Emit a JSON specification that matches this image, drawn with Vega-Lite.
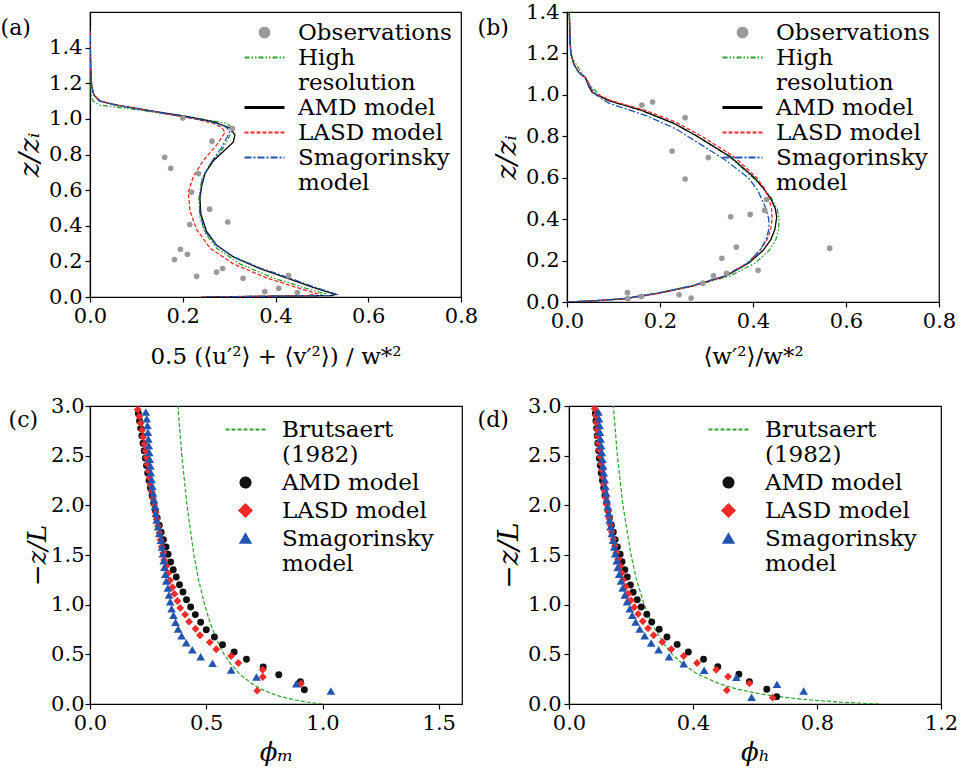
{
  "$schema": "https://vega.github.io/schema/vega-lite/v6.json",
  "background": "white",
  "padding": {"left": 0, "top": 0, "right": 0, "bottom": 0},
  "columns": 2,
  "align": "none",
  "spacing": {"row": 25, "column": -2},
  "resolve": {
    "scale": {"color": "independent", "shape": "independent", "strokeDash": "independent", "size": "independent"},
    "legend": {"color": "independent", "shape": "independent", "strokeDash": "independent", "size": "independent"}
  },
  "datasets": {
    "a_obs": [
      {"series": "Observations", "x": 0.161, "y": 0.784}, {"series": "Observations", "x": 0.174, "y": 0.723},
      {"series": "Observations", "x": 0.234, "y": 0.693}, {"series": "Observations", "x": 0.263, "y": 0.875},
      {"series": "Observations", "x": 0.307, "y": 0.946}, {"series": "Observations", "x": 0.219, "y": 0.589},
      {"series": "Observations", "x": 0.258, "y": 0.493}, {"series": "Observations", "x": 0.297, "y": 0.421},
      {"series": "Observations", "x": 0.215, "y": 0.407}, {"series": "Observations", "x": 0.195, "y": 0.268},
      {"series": "Observations", "x": 0.21, "y": 0.24}, {"series": "Observations", "x": 0.182, "y": 0.21},
      {"series": "Observations", "x": 0.23, "y": 0.116}, {"series": "Observations", "x": 0.273, "y": 0.14},
      {"series": "Observations", "x": 0.286, "y": 0.16}, {"series": "Observations", "x": 0.33, "y": 0.105},
      {"series": "Observations", "x": 0.428, "y": 0.12}, {"series": "Observations", "x": 0.377, "y": 0.03},
      {"series": "Observations", "x": 0.407, "y": 0.049}, {"series": "Observations", "x": 0.447, "y": 0.025},
      {"series": "Observations", "x": 0.2, "y": 1.005}
    ],
    "a_lines": [
      {"series": "High resolution", "x": 0.24, "y": 0}, {"series": "High resolution", "x": 0.49, "y": 0.008},
      {"series": "High resolution", "x": 0.506, "y": 0.019}, {"series": "High resolution", "x": 0.46, "y": 0.054},
      {"series": "High resolution", "x": 0.395, "y": 0.107}, {"series": "High resolution", "x": 0.323, "y": 0.186},
      {"series": "High resolution", "x": 0.273, "y": 0.274}, {"series": "High resolution", "x": 0.248, "y": 0.36},
      {"series": "High resolution", "x": 0.237, "y": 0.449}, {"series": "High resolution", "x": 0.235, "y": 0.554},
      {"series": "High resolution", "x": 0.241, "y": 0.66}, {"series": "High resolution", "x": 0.259, "y": 0.747},
      {"series": "High resolution", "x": 0.287, "y": 0.835}, {"series": "High resolution", "x": 0.3, "y": 0.9},
      {"series": "High resolution", "x": 0.309, "y": 0.946}, {"series": "High resolution", "x": 0.295, "y": 0.975},
      {"series": "High resolution", "x": 0.237, "y": 1.0}, {"series": "High resolution", "x": 0.165, "y": 1.028},
      {"series": "High resolution", "x": 0.093, "y": 1.054}, {"series": "High resolution", "x": 0.0216, "y": 1.077},
      {"series": "High resolution", "x": 0.007, "y": 1.098}, {"series": "High resolution", "x": 0.003, "y": 1.13},
      {"series": "High resolution", "x": 0.001, "y": 1.25}, {"series": "High resolution", "x": 0.0002, "y": 1.5},
      {"series": "AMD model", "x": 0.25, "y": 0}, {"series": "AMD model", "x": 0.52, "y": 0.008},
      {"series": "AMD model", "x": 0.53, "y": 0.014}, {"series": "AMD model", "x": 0.51, "y": 0.03},
      {"series": "AMD model", "x": 0.481, "y": 0.054}, {"series": "AMD model", "x": 0.424, "y": 0.107},
      {"series": "AMD model", "x": 0.366, "y": 0.16}, {"series": "AMD model", "x": 0.309, "y": 0.225},
      {"series": "AMD model", "x": 0.273, "y": 0.291}, {"series": "AMD model", "x": 0.251, "y": 0.37},
      {"series": "AMD model", "x": 0.239, "y": 0.467}, {"series": "AMD model", "x": 0.237, "y": 0.554},
      {"series": "AMD model", "x": 0.241, "y": 0.625}, {"series": "AMD model", "x": 0.248, "y": 0.695},
      {"series": "AMD model", "x": 0.266, "y": 0.765}, {"series": "AMD model", "x": 0.295, "y": 0.835},
      {"series": "AMD model", "x": 0.309, "y": 0.87}, {"series": "AMD model", "x": 0.3125, "y": 0.91},
      {"series": "AMD model", "x": 0.302, "y": 0.949}, {"series": "AMD model", "x": 0.266, "y": 0.984},
      {"series": "AMD model", "x": 0.208, "y": 1.014}, {"series": "AMD model", "x": 0.129, "y": 1.046},
      {"series": "AMD model", "x": 0.058, "y": 1.077}, {"series": "AMD model", "x": 0.0216, "y": 1.1},
      {"series": "AMD model", "x": 0.0086, "y": 1.133}, {"series": "AMD model", "x": 0.0036, "y": 1.186},
      {"series": "AMD model", "x": 0.0014, "y": 1.29}, {"series": "AMD model", "x": 0.0002, "y": 1.5},
      {"series": "LASD model", "x": 0.24, "y": 0}, {"series": "LASD model", "x": 0.47, "y": 0.008},
      {"series": "LASD model", "x": 0.489, "y": 0.019}, {"series": "LASD model", "x": 0.445, "y": 0.054},
      {"series": "LASD model", "x": 0.381, "y": 0.107}, {"series": "LASD model", "x": 0.309, "y": 0.186},
      {"series": "LASD model", "x": 0.259, "y": 0.274}, {"series": "LASD model", "x": 0.23, "y": 0.379},
      {"series": "LASD model", "x": 0.2155, "y": 0.484}, {"series": "LASD model", "x": 0.212, "y": 0.589},
      {"series": "LASD model", "x": 0.223, "y": 0.677}, {"series": "LASD model", "x": 0.244, "y": 0.765},
      {"series": "LASD model", "x": 0.273, "y": 0.853}, {"series": "LASD model", "x": 0.291, "y": 0.923},
      {"series": "LASD model", "x": 0.285, "y": 0.95}, {"series": "LASD model", "x": 0.266, "y": 0.975},
      {"series": "LASD model", "x": 0.225, "y": 1.0}, {"series": "LASD model", "x": 0.16, "y": 1.03},
      {"series": "LASD model", "x": 0.129, "y": 1.046}, {"series": "LASD model", "x": 0.058, "y": 1.077},
      {"series": "LASD model", "x": 0.0216, "y": 1.1}, {"series": "LASD model", "x": 0.0086, "y": 1.133},
      {"series": "LASD model", "x": 0.0036, "y": 1.186}, {"series": "LASD model", "x": 0.0014, "y": 1.29},
      {"series": "LASD model", "x": 0.0002, "y": 1.5},
      {"series": "Smagorinsky model", "x": 0.25, "y": 0}, {"series": "Smagorinsky model", "x": 0.52, "y": 0.008},
      {"series": "Smagorinsky model", "x": 0.532, "y": 0.014}, {"series": "Smagorinsky model", "x": 0.515, "y": 0.03},
      {"series": "Smagorinsky model", "x": 0.486, "y": 0.054}, {"series": "Smagorinsky model", "x": 0.43, "y": 0.107},
      {"series": "Smagorinsky model", "x": 0.37, "y": 0.16}, {"series": "Smagorinsky model", "x": 0.31, "y": 0.225},
      {"series": "Smagorinsky model", "x": 0.272, "y": 0.291}, {"series": "Smagorinsky model", "x": 0.248, "y": 0.37},
      {"series": "Smagorinsky model", "x": 0.237, "y": 0.467}, {"series": "Smagorinsky model", "x": 0.236, "y": 0.554},
      {"series": "Smagorinsky model", "x": 0.242, "y": 0.66}, {"series": "Smagorinsky model", "x": 0.259, "y": 0.747},
      {"series": "Smagorinsky model", "x": 0.283, "y": 0.835}, {"series": "Smagorinsky model", "x": 0.296, "y": 0.9},
      {"series": "Smagorinsky model", "x": 0.302, "y": 0.932}, {"series": "Smagorinsky model", "x": 0.29, "y": 0.96},
      {"series": "Smagorinsky model", "x": 0.26, "y": 0.984}, {"series": "Smagorinsky model", "x": 0.2, "y": 1.014},
      {"series": "Smagorinsky model", "x": 0.125, "y": 1.046}, {"series": "Smagorinsky model", "x": 0.055, "y": 1.077},
      {"series": "Smagorinsky model", "x": 0.02, "y": 1.1}, {"series": "Smagorinsky model", "x": 0.008, "y": 1.133},
      {"series": "Smagorinsky model", "x": 0.0035, "y": 1.186}, {"series": "Smagorinsky model", "x": 0.0014, "y": 1.29},
      {"series": "Smagorinsky model", "x": 0.0002, "y": 1.5}
    ],
    "b_obs": [
      {"series": "Observations", "x": 0.161, "y": 0.951}, {"series": "Observations", "x": 0.184, "y": 0.965},
      {"series": "Observations", "x": 0.254, "y": 0.89}, {"series": "Observations", "x": 0.226, "y": 0.729},
      {"series": "Observations", "x": 0.304, "y": 0.697}, {"series": "Observations", "x": 0.254, "y": 0.594},
      {"series": "Observations", "x": 0.429, "y": 0.495}, {"series": "Observations", "x": 0.425, "y": 0.443},
      {"series": "Observations", "x": 0.394, "y": 0.423}, {"series": "Observations", "x": 0.352, "y": 0.411},
      {"series": "Observations", "x": 0.364, "y": 0.265}, {"series": "Observations", "x": 0.333, "y": 0.211},
      {"series": "Observations", "x": 0.411, "y": 0.153}, {"series": "Observations", "x": 0.343, "y": 0.139},
      {"series": "Observations", "x": 0.315, "y": 0.126}, {"series": "Observations", "x": 0.292, "y": 0.091},
      {"series": "Observations", "x": 0.13, "y": 0.045}, {"series": "Observations", "x": 0.241, "y": 0.035},
      {"series": "Observations", "x": 0.16, "y": 0.027}, {"series": "Observations", "x": 0.131, "y": 0.016},
      {"series": "Observations", "x": 0.267, "y": 0.019}, {"series": "Observations", "x": 0.565, "y": 0.26}
    ],
    "b_lines": [
      {"series": "High resolution", "x": 0.0, "y": 0}, {"series": "High resolution", "x": 0.05, "y": 0.005},
      {"series": "High resolution", "x": 0.12, "y": 0.016}, {"series": "High resolution", "x": 0.195, "y": 0.043},
      {"series": "High resolution", "x": 0.27, "y": 0.077}, {"series": "High resolution", "x": 0.35, "y": 0.125},
      {"series": "High resolution", "x": 0.405, "y": 0.188}, {"series": "High resolution", "x": 0.435, "y": 0.25},
      {"series": "High resolution", "x": 0.449, "y": 0.3}, {"series": "High resolution", "x": 0.455, "y": 0.35},
      {"series": "High resolution", "x": 0.456, "y": 0.4}, {"series": "High resolution", "x": 0.452, "y": 0.45},
      {"series": "High resolution", "x": 0.44, "y": 0.5}, {"series": "High resolution", "x": 0.422, "y": 0.55},
      {"series": "High resolution", "x": 0.4, "y": 0.6}, {"series": "High resolution", "x": 0.35, "y": 0.7},
      {"series": "High resolution", "x": 0.28, "y": 0.8}, {"series": "High resolution", "x": 0.232, "y": 0.86},
      {"series": "High resolution", "x": 0.16, "y": 0.924}, {"series": "High resolution", "x": 0.095, "y": 0.97},
      {"series": "High resolution", "x": 0.075, "y": 0.99}, {"series": "High resolution", "x": 0.054, "y": 1.035},
      {"series": "High resolution", "x": 0.033, "y": 1.1}, {"series": "High resolution", "x": 0.011, "y": 1.18},
      {"series": "High resolution", "x": 0.006, "y": 1.25}, {"series": "High resolution", "x": 0.005, "y": 1.4},
      {"series": "AMD model", "x": 0.0, "y": 0}, {"series": "AMD model", "x": 0.054, "y": 0.005},
      {"series": "AMD model", "x": 0.126, "y": 0.016}, {"series": "AMD model", "x": 0.198, "y": 0.043},
      {"series": "AMD model", "x": 0.269, "y": 0.077}, {"series": "AMD model", "x": 0.341, "y": 0.125},
      {"series": "AMD model", "x": 0.391, "y": 0.188}, {"series": "AMD model", "x": 0.422, "y": 0.25},
      {"series": "AMD model", "x": 0.438, "y": 0.3}, {"series": "AMD model", "x": 0.447, "y": 0.35},
      {"series": "AMD model", "x": 0.451, "y": 0.41}, {"series": "AMD model", "x": 0.448, "y": 0.45},
      {"series": "AMD model", "x": 0.438, "y": 0.5}, {"series": "AMD model", "x": 0.422, "y": 0.55},
      {"series": "AMD model", "x": 0.403, "y": 0.6}, {"series": "AMD model", "x": 0.352, "y": 0.7},
      {"series": "AMD model", "x": 0.28, "y": 0.8}, {"series": "AMD model", "x": 0.232, "y": 0.86},
      {"series": "AMD model", "x": 0.162, "y": 0.924}, {"series": "AMD model", "x": 0.09, "y": 0.972},
      {"series": "AMD model", "x": 0.054, "y": 1.012}, {"series": "AMD model", "x": 0.047, "y": 1.04},
      {"series": "AMD model", "x": 0.04, "y": 1.083}, {"series": "AMD model", "x": 0.025, "y": 1.11},
      {"series": "AMD model", "x": 0.015, "y": 1.147}, {"series": "AMD model", "x": 0.008, "y": 1.2},
      {"series": "AMD model", "x": 0.006, "y": 1.3}, {"series": "AMD model", "x": 0.005, "y": 1.4},
      {"series": "LASD model", "x": 0.0, "y": 0}, {"series": "LASD model", "x": 0.055, "y": 0.005},
      {"series": "LASD model", "x": 0.128, "y": 0.016}, {"series": "LASD model", "x": 0.2, "y": 0.043},
      {"series": "LASD model", "x": 0.27, "y": 0.077}, {"series": "LASD model", "x": 0.34, "y": 0.125},
      {"series": "LASD model", "x": 0.388, "y": 0.188}, {"series": "LASD model", "x": 0.415, "y": 0.25},
      {"series": "LASD model", "x": 0.43, "y": 0.3}, {"series": "LASD model", "x": 0.438, "y": 0.35},
      {"series": "LASD model", "x": 0.441, "y": 0.4}, {"series": "LASD model", "x": 0.44, "y": 0.45},
      {"series": "LASD model", "x": 0.434, "y": 0.5}, {"series": "LASD model", "x": 0.424, "y": 0.55},
      {"series": "LASD model", "x": 0.408, "y": 0.6}, {"series": "LASD model", "x": 0.36, "y": 0.7},
      {"series": "LASD model", "x": 0.29, "y": 0.8}, {"series": "LASD model", "x": 0.234, "y": 0.868},
      {"series": "LASD model", "x": 0.17, "y": 0.924}, {"series": "LASD model", "x": 0.095, "y": 0.972},
      {"series": "LASD model", "x": 0.056, "y": 1.012}, {"series": "LASD model", "x": 0.048, "y": 1.05},
      {"series": "LASD model", "x": 0.04, "y": 1.083}, {"series": "LASD model", "x": 0.025, "y": 1.11},
      {"series": "LASD model", "x": 0.015, "y": 1.147}, {"series": "LASD model", "x": 0.008, "y": 1.2},
      {"series": "LASD model", "x": 0.005, "y": 1.4},
      {"series": "Smagorinsky model", "x": 0.0, "y": 0}, {"series": "Smagorinsky model", "x": 0.05, "y": 0.005},
      {"series": "Smagorinsky model", "x": 0.12, "y": 0.016}, {"series": "Smagorinsky model", "x": 0.195, "y": 0.043},
      {"series": "Smagorinsky model", "x": 0.265, "y": 0.077}, {"series": "Smagorinsky model", "x": 0.338, "y": 0.125},
      {"series": "Smagorinsky model", "x": 0.388, "y": 0.188}, {"series": "Smagorinsky model", "x": 0.415, "y": 0.25},
      {"series": "Smagorinsky model", "x": 0.428, "y": 0.3}, {"series": "Smagorinsky model", "x": 0.434, "y": 0.35},
      {"series": "Smagorinsky model", "x": 0.434, "y": 0.4}, {"series": "Smagorinsky model", "x": 0.428, "y": 0.45},
      {"series": "Smagorinsky model", "x": 0.418, "y": 0.5}, {"series": "Smagorinsky model", "x": 0.41, "y": 0.54},
      {"series": "Smagorinsky model", "x": 0.39, "y": 0.6}, {"series": "Smagorinsky model", "x": 0.341, "y": 0.684},
      {"series": "Smagorinsky model", "x": 0.295, "y": 0.75}, {"series": "Smagorinsky model", "x": 0.234, "y": 0.836},
      {"series": "Smagorinsky model", "x": 0.17, "y": 0.9}, {"series": "Smagorinsky model", "x": 0.09, "y": 0.96},
      {"series": "Smagorinsky model", "x": 0.062, "y": 1.0}, {"series": "Smagorinsky model", "x": 0.046, "y": 1.05},
      {"series": "Smagorinsky model", "x": 0.038, "y": 1.083}, {"series": "Smagorinsky model", "x": 0.024, "y": 1.11},
      {"series": "Smagorinsky model", "x": 0.015, "y": 1.147}, {"series": "Smagorinsky model", "x": 0.008, "y": 1.2},
      {"series": "Smagorinsky model", "x": 0.005, "y": 1.4}
    ],
    "c_line": [
      {"series": "Brutsaert (1982)", "x": 1.0, "y": 0}, {"series": "Brutsaert (1982)", "x": 0.981, "y": 0.005},
      {"series": "Brutsaert (1982)", "x": 0.964, "y": 0.01}, {"series": "Brutsaert (1982)", "x": 0.933, "y": 0.02},
      {"series": "Brutsaert (1982)", "x": 0.884, "y": 0.04}, {"series": "Brutsaert (1982)", "x": 0.845, "y": 0.06},
      {"series": "Brutsaert (1982)", "x": 0.814, "y": 0.08}, {"series": "Brutsaert (1982)", "x": 0.788, "y": 0.1},
      {"series": "Brutsaert (1982)", "x": 0.736, "y": 0.15}, {"series": "Brutsaert (1982)", "x": 0.699, "y": 0.2},
      {"series": "Brutsaert (1982)", "x": 0.644, "y": 0.3}, {"series": "Brutsaert (1982)", "x": 0.606, "y": 0.4},
      {"series": "Brutsaert (1982)", "x": 0.577, "y": 0.5}, {"series": "Brutsaert (1982)", "x": 0.554, "y": 0.6},
      {"series": "Brutsaert (1982)", "x": 0.519, "y": 0.8}, {"series": "Brutsaert (1982)", "x": 0.493, "y": 1.0},
      {"series": "Brutsaert (1982)", "x": 0.467, "y": 1.25}, {"series": "Brutsaert (1982)", "x": 0.447, "y": 1.5},
      {"series": "Brutsaert (1982)", "x": 0.417, "y": 2.0}, {"series": "Brutsaert (1982)", "x": 0.395, "y": 2.5},
      {"series": "Brutsaert (1982)", "x": 0.378, "y": 3.0}
    ],
    "c_pts": [
      {"series": "AMD model", "x": 0.922, "y": 0.144}, {"series": "AMD model", "x": 0.905, "y": 0.225},
      {"series": "AMD model", "x": 0.812, "y": 0.295}, {"series": "AMD model", "x": 0.745, "y": 0.372},
      {"series": "AMD model", "x": 0.673, "y": 0.45}, {"series": "AMD model", "x": 0.62, "y": 0.524},
      {"series": "AMD model", "x": 0.57, "y": 0.597}, {"series": "AMD model", "x": 0.535, "y": 0.675},
      {"series": "AMD model", "x": 0.5, "y": 0.748}, {"series": "AMD model", "x": 0.476, "y": 0.823},
      {"series": "AMD model", "x": 0.453, "y": 0.9}, {"series": "AMD model", "x": 0.433, "y": 0.977},
      {"series": "AMD model", "x": 0.415, "y": 1.05}, {"series": "AMD model", "x": 0.4, "y": 1.128},
      {"series": "AMD model", "x": 0.385, "y": 1.2}, {"series": "AMD model", "x": 0.371, "y": 1.279},
      {"series": "AMD model", "x": 0.358, "y": 1.352}, {"series": "AMD model", "x": 0.347, "y": 1.43},
      {"series": "AMD model", "x": 0.336, "y": 1.507}, {"series": "AMD model", "x": 0.327, "y": 1.58},
      {"series": "AMD model", "x": 0.316, "y": 1.655}, {"series": "AMD model", "x": 0.306, "y": 1.73},
      {"series": "AMD model", "x": 0.298, "y": 1.8}, {"series": "AMD model", "x": 0.289, "y": 1.876},
      {"series": "AMD model", "x": 0.281, "y": 1.95}, {"series": "AMD model", "x": 0.274, "y": 2.025},
      {"series": "AMD model", "x": 0.267, "y": 2.1}, {"series": "AMD model", "x": 0.26, "y": 2.175},
      {"series": "AMD model", "x": 0.254, "y": 2.25}, {"series": "AMD model", "x": 0.248, "y": 2.325},
      {"series": "AMD model", "x": 0.243, "y": 2.4}, {"series": "AMD model", "x": 0.238, "y": 2.475},
      {"series": "AMD model", "x": 0.233, "y": 2.55}, {"series": "AMD model", "x": 0.228, "y": 2.625},
      {"series": "AMD model", "x": 0.223, "y": 2.7}, {"series": "AMD model", "x": 0.218, "y": 2.775},
      {"series": "AMD model", "x": 0.213, "y": 2.85}, {"series": "AMD model", "x": 0.208, "y": 2.925},
      {"series": "LASD model", "x": 0.719, "y": 0.134}, {"series": "LASD model", "x": 0.907, "y": 0.204},
      {"series": "LASD model", "x": 0.743, "y": 0.272}, {"series": "LASD model", "x": 0.743, "y": 0.345},
      {"series": "LASD model", "x": 0.638, "y": 0.413}, {"series": "LASD model", "x": 0.607, "y": 0.483},
      {"series": "LASD model", "x": 0.543, "y": 0.551}, {"series": "LASD model", "x": 0.515, "y": 0.621},
      {"series": "LASD model", "x": 0.473, "y": 0.692}, {"series": "LASD model", "x": 0.454, "y": 0.758},
      {"series": "LASD model", "x": 0.426, "y": 0.829}, {"series": "LASD model", "x": 0.409, "y": 0.9},
      {"series": "LASD model", "x": 0.388, "y": 0.967}, {"series": "LASD model", "x": 0.376, "y": 1.037},
      {"series": "LASD model", "x": 0.363, "y": 1.108}, {"series": "LASD model", "x": 0.355, "y": 1.175},
      {"series": "LASD model", "x": 0.344, "y": 1.245}, {"series": "LASD model", "x": 0.336, "y": 1.316},
      {"series": "LASD model", "x": 0.328, "y": 1.387}, {"series": "LASD model", "x": 0.319, "y": 1.45},
      {"series": "LASD model", "x": 0.315, "y": 1.52}, {"series": "LASD model", "x": 0.308, "y": 1.584},
      {"series": "LASD model", "x": 0.303, "y": 1.653}, {"series": "LASD model", "x": 0.298, "y": 1.722},
      {"series": "LASD model", "x": 0.292, "y": 1.791}, {"series": "LASD model", "x": 0.287, "y": 1.86},
      {"series": "LASD model", "x": 0.282, "y": 1.929}, {"series": "LASD model", "x": 0.277, "y": 1.998},
      {"series": "LASD model", "x": 0.271, "y": 2.067}, {"series": "LASD model", "x": 0.266, "y": 2.136},
      {"series": "LASD model", "x": 0.26, "y": 2.205}, {"series": "LASD model", "x": 0.256, "y": 2.274},
      {"series": "LASD model", "x": 0.252, "y": 2.343}, {"series": "LASD model", "x": 0.247, "y": 2.412},
      {"series": "LASD model", "x": 0.243, "y": 2.481}, {"series": "LASD model", "x": 0.239, "y": 2.55},
      {"series": "LASD model", "x": 0.235, "y": 2.619}, {"series": "LASD model", "x": 0.229, "y": 2.688},
      {"series": "LASD model", "x": 0.224, "y": 2.757}, {"series": "LASD model", "x": 0.218, "y": 2.826},
      {"series": "LASD model", "x": 0.212, "y": 2.895}, {"series": "LASD model", "x": 0.205, "y": 2.964},
      {"series": "Smagorinsky model", "x": 1.036, "y": 0.131}, {"series": "Smagorinsky model", "x": 0.887, "y": 0.204},
      {"series": "Smagorinsky model", "x": 0.716, "y": 0.272}, {"series": "Smagorinsky model", "x": 0.607, "y": 0.342},
      {"series": "Smagorinsky model", "x": 0.527, "y": 0.41}, {"series": "Smagorinsky model", "x": 0.476, "y": 0.476},
      {"series": "Smagorinsky model", "x": 0.44, "y": 0.547}, {"series": "Smagorinsky model", "x": 0.414, "y": 0.617},
      {"series": "Smagorinsky model", "x": 0.394, "y": 0.688}, {"series": "Smagorinsky model", "x": 0.379, "y": 0.755},
      {"series": "Smagorinsky model", "x": 0.368, "y": 0.823}, {"series": "Smagorinsky model", "x": 0.359, "y": 0.893},
      {"series": "Smagorinsky model", "x": 0.351, "y": 0.96}, {"series": "Smagorinsky model", "x": 0.345, "y": 1.03},
      {"series": "Smagorinsky model", "x": 0.34, "y": 1.098}, {"series": "Smagorinsky model", "x": 0.335, "y": 1.168},
      {"series": "Smagorinsky model", "x": 0.328, "y": 1.239}, {"series": "Smagorinsky model", "x": 0.324, "y": 1.306},
      {"series": "Smagorinsky model", "x": 0.32, "y": 1.377}, {"series": "Smagorinsky model", "x": 0.317, "y": 1.443},
      {"series": "Smagorinsky model", "x": 0.313, "y": 1.513}, {"series": "Smagorinsky model", "x": 0.31, "y": 1.58},
      {"series": "Smagorinsky model", "x": 0.305, "y": 1.648}, {"series": "Smagorinsky model", "x": 0.298, "y": 1.716},
      {"series": "Smagorinsky model", "x": 0.293, "y": 1.784}, {"series": "Smagorinsky model", "x": 0.287, "y": 1.852},
      {"series": "Smagorinsky model", "x": 0.283, "y": 1.92}, {"series": "Smagorinsky model", "x": 0.279, "y": 1.988},
      {"series": "Smagorinsky model", "x": 0.275, "y": 2.056}, {"series": "Smagorinsky model", "x": 0.271, "y": 2.124},
      {"series": "Smagorinsky model", "x": 0.268, "y": 2.192}, {"series": "Smagorinsky model", "x": 0.265, "y": 2.26},
      {"series": "Smagorinsky model", "x": 0.262, "y": 2.328}, {"series": "Smagorinsky model", "x": 0.26, "y": 2.396},
      {"series": "Smagorinsky model", "x": 0.257, "y": 2.464}, {"series": "Smagorinsky model", "x": 0.255, "y": 2.532},
      {"series": "Smagorinsky model", "x": 0.253, "y": 2.6}, {"series": "Smagorinsky model", "x": 0.251, "y": 2.668},
      {"series": "Smagorinsky model", "x": 0.249, "y": 2.736}, {"series": "Smagorinsky model", "x": 0.247, "y": 2.804},
      {"series": "Smagorinsky model", "x": 0.244, "y": 2.872}, {"series": "Smagorinsky model", "x": 0.24, "y": 2.94}
    ],
    "d_line": [
      {"series": "Brutsaert (1982)", "x": 1.0, "y": 0}, {"series": "Brutsaert (1982)", "x": 0.962, "y": 0.005},
      {"series": "Brutsaert (1982)", "x": 0.928, "y": 0.01}, {"series": "Brutsaert (1982)", "x": 0.87, "y": 0.02},
      {"series": "Brutsaert (1982)", "x": 0.781, "y": 0.04}, {"series": "Brutsaert (1982)", "x": 0.714, "y": 0.06},
      {"series": "Brutsaert (1982)", "x": 0.662, "y": 0.08}, {"series": "Brutsaert (1982)", "x": 0.62, "y": 0.1},
      {"series": "Brutsaert (1982)", "x": 0.542, "y": 0.15}, {"series": "Brutsaert (1982)", "x": 0.488, "y": 0.2},
      {"series": "Brutsaert (1982)", "x": 0.415, "y": 0.3}, {"series": "Brutsaert (1982)", "x": 0.368, "y": 0.4},
      {"series": "Brutsaert (1982)", "x": 0.333, "y": 0.5}, {"series": "Brutsaert (1982)", "x": 0.307, "y": 0.6},
      {"series": "Brutsaert (1982)", "x": 0.269, "y": 0.8}, {"series": "Brutsaert (1982)", "x": 0.2425, "y": 1.0},
      {"series": "Brutsaert (1982)", "x": 0.218, "y": 1.25}, {"series": "Brutsaert (1982)", "x": 0.2, "y": 1.5},
      {"series": "Brutsaert (1982)", "x": 0.174, "y": 2.0}, {"series": "Brutsaert (1982)", "x": 0.156, "y": 2.5},
      {"series": "Brutsaert (1982)", "x": 0.143, "y": 3.0}
    ],
    "d_pts": [
      {"series": "AMD model", "x": 0.67, "y": 0.074}, {"series": "AMD model", "x": 0.638, "y": 0.148},
      {"series": "AMD model", "x": 0.582, "y": 0.225}, {"series": "AMD model", "x": 0.548, "y": 0.299},
      {"series": "AMD model", "x": 0.48, "y": 0.376}, {"series": "AMD model", "x": 0.434, "y": 0.45},
      {"series": "AMD model", "x": 0.385, "y": 0.524}, {"series": "AMD model", "x": 0.349, "y": 0.6},
      {"series": "AMD model", "x": 0.316, "y": 0.675}, {"series": "AMD model", "x": 0.291, "y": 0.752},
      {"series": "AMD model", "x": 0.267, "y": 0.826}, {"series": "AMD model", "x": 0.251, "y": 0.903},
      {"series": "AMD model", "x": 0.233, "y": 0.977}, {"series": "AMD model", "x": 0.22, "y": 1.05},
      {"series": "AMD model", "x": 0.207, "y": 1.125}, {"series": "AMD model", "x": 0.198, "y": 1.198},
      {"series": "AMD model", "x": 0.188, "y": 1.279}, {"series": "AMD model", "x": 0.18, "y": 1.352},
      {"series": "AMD model", "x": 0.171, "y": 1.433}, {"series": "AMD model", "x": 0.165, "y": 1.507},
      {"series": "AMD model", "x": 0.156, "y": 1.58}, {"series": "AMD model", "x": 0.149, "y": 1.655},
      {"series": "AMD model", "x": 0.143, "y": 1.73}, {"series": "AMD model", "x": 0.137, "y": 1.8},
      {"series": "AMD model", "x": 0.131, "y": 1.876}, {"series": "AMD model", "x": 0.126, "y": 1.95},
      {"series": "AMD model", "x": 0.121, "y": 2.025}, {"series": "AMD model", "x": 0.116, "y": 2.1},
      {"series": "AMD model", "x": 0.112, "y": 2.175}, {"series": "AMD model", "x": 0.108, "y": 2.25},
      {"series": "AMD model", "x": 0.104, "y": 2.325}, {"series": "AMD model", "x": 0.101, "y": 2.4},
      {"series": "AMD model", "x": 0.098, "y": 2.475}, {"series": "AMD model", "x": 0.096, "y": 2.55},
      {"series": "AMD model", "x": 0.093, "y": 2.625}, {"series": "AMD model", "x": 0.091, "y": 2.7},
      {"series": "AMD model", "x": 0.089, "y": 2.775}, {"series": "AMD model", "x": 0.087, "y": 2.85},
      {"series": "AMD model", "x": 0.085, "y": 2.925},
      {"series": "LASD model", "x": 0.657, "y": 0.064}, {"series": "LASD model", "x": 0.509, "y": 0.138},
      {"series": "LASD model", "x": 0.582, "y": 0.208}, {"series": "LASD model", "x": 0.513, "y": 0.275},
      {"series": "LASD model", "x": 0.475, "y": 0.345}, {"series": "LASD model", "x": 0.413, "y": 0.413},
      {"series": "LASD model", "x": 0.37, "y": 0.483}, {"series": "LASD model", "x": 0.33, "y": 0.551},
      {"series": "LASD model", "x": 0.301, "y": 0.624}, {"series": "LASD model", "x": 0.273, "y": 0.692},
      {"series": "LASD model", "x": 0.255, "y": 0.762}, {"series": "LASD model", "x": 0.238, "y": 0.833},
      {"series": "LASD model", "x": 0.223, "y": 0.906}, {"series": "LASD model", "x": 0.211, "y": 0.974},
      {"series": "LASD model", "x": 0.2, "y": 1.044}, {"series": "LASD model", "x": 0.191, "y": 1.11},
      {"series": "LASD model", "x": 0.183, "y": 1.18}, {"series": "LASD model", "x": 0.175, "y": 1.249},
      {"series": "LASD model", "x": 0.17, "y": 1.319}, {"series": "LASD model", "x": 0.165, "y": 1.39},
      {"series": "LASD model", "x": 0.158, "y": 1.457}, {"series": "LASD model", "x": 0.153, "y": 1.524},
      {"series": "LASD model", "x": 0.148, "y": 1.593}, {"series": "LASD model", "x": 0.143, "y": 1.662},
      {"series": "LASD model", "x": 0.138, "y": 1.731}, {"series": "LASD model", "x": 0.134, "y": 1.8},
      {"series": "LASD model", "x": 0.13, "y": 1.869}, {"series": "LASD model", "x": 0.126, "y": 1.938},
      {"series": "LASD model", "x": 0.122, "y": 2.007}, {"series": "LASD model", "x": 0.118, "y": 2.076},
      {"series": "LASD model", "x": 0.115, "y": 2.145}, {"series": "LASD model", "x": 0.112, "y": 2.214},
      {"series": "LASD model", "x": 0.109, "y": 2.283}, {"series": "LASD model", "x": 0.106, "y": 2.352},
      {"series": "LASD model", "x": 0.103, "y": 2.421}, {"series": "LASD model", "x": 0.1, "y": 2.49},
      {"series": "LASD model", "x": 0.098, "y": 2.559}, {"series": "LASD model", "x": 0.095, "y": 2.628},
      {"series": "LASD model", "x": 0.093, "y": 2.697}, {"series": "LASD model", "x": 0.091, "y": 2.766},
      {"series": "LASD model", "x": 0.088, "y": 2.835}, {"series": "LASD model", "x": 0.086, "y": 2.904},
      {"series": "LASD model", "x": 0.083, "y": 2.973},
      {"series": "Smagorinsky model", "x": 0.589, "y": 0.067}, {"series": "Smagorinsky model", "x": 0.757, "y": 0.131},
      {"series": "Smagorinsky model", "x": 0.671, "y": 0.198}, {"series": "Smagorinsky model", "x": 0.54, "y": 0.269},
      {"series": "Smagorinsky model", "x": 0.436, "y": 0.34}, {"series": "Smagorinsky model", "x": 0.37, "y": 0.406},
      {"series": "Smagorinsky model", "x": 0.323, "y": 0.476}, {"series": "Smagorinsky model", "x": 0.289, "y": 0.547},
      {"series": "Smagorinsky model", "x": 0.265, "y": 0.614}, {"series": "Smagorinsky model", "x": 0.244, "y": 0.688},
      {"series": "Smagorinsky model", "x": 0.228, "y": 0.755}, {"series": "Smagorinsky model", "x": 0.215, "y": 0.826},
      {"series": "Smagorinsky model", "x": 0.204, "y": 0.893}, {"series": "Smagorinsky model", "x": 0.196, "y": 0.96},
      {"series": "Smagorinsky model", "x": 0.187, "y": 1.03}, {"series": "Smagorinsky model", "x": 0.18, "y": 1.098},
      {"series": "Smagorinsky model", "x": 0.173, "y": 1.168}, {"series": "Smagorinsky model", "x": 0.168, "y": 1.239},
      {"series": "Smagorinsky model", "x": 0.162, "y": 1.306}, {"series": "Smagorinsky model", "x": 0.157, "y": 1.373},
      {"series": "Smagorinsky model", "x": 0.154, "y": 1.443}, {"series": "Smagorinsky model", "x": 0.149, "y": 1.513},
      {"series": "Smagorinsky model", "x": 0.146, "y": 1.58}, {"series": "Smagorinsky model", "x": 0.142, "y": 1.648},
      {"series": "Smagorinsky model", "x": 0.138, "y": 1.716}, {"series": "Smagorinsky model", "x": 0.134, "y": 1.784},
      {"series": "Smagorinsky model", "x": 0.131, "y": 1.852}, {"series": "Smagorinsky model", "x": 0.128, "y": 1.92},
      {"series": "Smagorinsky model", "x": 0.125, "y": 1.988}, {"series": "Smagorinsky model", "x": 0.122, "y": 2.056},
      {"series": "Smagorinsky model", "x": 0.12, "y": 2.124}, {"series": "Smagorinsky model", "x": 0.117, "y": 2.192},
      {"series": "Smagorinsky model", "x": 0.115, "y": 2.26}, {"series": "Smagorinsky model", "x": 0.112, "y": 2.328},
      {"series": "Smagorinsky model", "x": 0.11, "y": 2.396}, {"series": "Smagorinsky model", "x": 0.108, "y": 2.464},
      {"series": "Smagorinsky model", "x": 0.106, "y": 2.532}, {"series": "Smagorinsky model", "x": 0.104, "y": 2.6},
      {"series": "Smagorinsky model", "x": 0.102, "y": 2.668}, {"series": "Smagorinsky model", "x": 0.1, "y": 2.736},
      {"series": "Smagorinsky model", "x": 0.099, "y": 2.804}, {"series": "Smagorinsky model", "x": 0.097, "y": 2.872},
      {"series": "Smagorinsky model", "x": 0.095, "y": 2.94}
    ]
  },
  "concat": [
    {
      "width": 371, "height": 285,
      "title": {"text": "(a)", "anchor": "start", "frame": "bounds", "offset": -28, "dx": -16},
      "layer": [
        {
          "data": {"name": "a_lines"},
          "mark": {"type": "line", "strokeWidth": 1.3, "clip": true},
          "encoding": {
            "x": {"field": "x", "type": "quantitative", "scale": {"domain": [0, 0.8]},
                  "axis": {"values": [0, 0.2, 0.4, 0.6, 0.8], "format": ".1f", "title": "0.5 (⟨u′²⟩ + ⟨v′²⟩) / w*²", "titleFontSize": 23, "titlePadding": 19}},
            "y": {"field": "y", "type": "quantitative", "scale": {"domain": [0, 1.5]},
                  "axis": {"values": [0, 0.2, 0.4, 0.6, 0.8, 1.0, 1.2, 1.4], "format": ".1f", "title": "z/zᵢ", "titleFontSize": 28, "titleFontStyle": "italic", "titlePadding": 4}},
            "order": {"field": "y", "type": "quantitative"},
            "color": {"field": "series", "type": "nominal",
                      "scale": {"domain": ["Observations", "High resolution", "AMD model", "LASD model", "Smagorinsky model"], "range": ["#9a9a9a", "#2ca02c", "#000000", "#f22a2a", "#2255b0"]},
                      "legend": {
                        "offset": 9, "rowPadding": 1, "labelOffset": 22,
                        "labelExpr": "datum.label === 'High resolution' ? ['High', 'resolution'] : datum.label === 'Smagorinsky model' ? ['Smagorinsky', 'model'] : datum.label",
                        "encode": {"symbols": {"update": {
                          "shape": {"signal": "datum.value === 'Observations' ? 'circle' : 'M-2,0L2,0'"},
                          "size": {"signal": "datum.value === 'Observations' ? 90 : 400"},
                          "fill": {"signal": "datum.value === 'Observations' ? '#9a9a9a' : 'transparent'"},
                          "stroke": {"signal": "datum.value === 'High resolution' ? '#2ca02c' : datum.value === 'AMD model' ? '#000000' : datum.value === 'LASD model' ? '#f22a2a' : datum.value === 'Smagorinsky model' ? '#2255b0' : 'transparent'"},
                          "strokeWidth": {"signal": "datum.value === 'AMD model' ? 3 : 2.2"},
                          "strokeDash": {"signal": "datum.value === 'High resolution' ? [5, 2, 1.5, 2, 1.5, 2] : datum.value === 'LASD model' ? [4, 2] : datum.value === 'Smagorinsky model' ? [7, 2, 2, 2] : [1, 0]"},
                          "opacity": {"value": 1}
                        }}}
                      }},
            "strokeDash": {"field": "series", "type": "nominal", "legend": null,
                           "scale": {"domain": ["High resolution", "AMD model", "LASD model", "Smagorinsky model"], "range": [[5, 2, 1.5, 2, 1.5, 2], [1, 0], [4, 2], [7, 2, 2, 2]]}}
          }
        },
        {
          "data": {"name": "a_obs"},
          "mark": {"type": "circle", "size": 32, "opacity": 1},
          "encoding": {
            "x": {"field": "x", "type": "quantitative"},
            "y": {"field": "y", "type": "quantitative"},
            "color": {"field": "series", "type": "nominal"}
          }
        }
      ]
    },
    {
      "width": 372, "height": 290,
      "title": {"text": "(b)", "anchor": "start", "frame": "bounds", "offset": -39, "dx": -16},
      "layer": [
        {
          "data": {"name": "b_lines"},
          "mark": {"type": "line", "strokeWidth": 1.3, "clip": true},
          "encoding": {
            "x": {"field": "x", "type": "quantitative", "scale": {"domain": [0, 0.8]},
                  "axis": {"values": [0, 0.2, 0.4, 0.6, 0.8], "format": ".1f", "title": "⟨w′²⟩/w*²", "titleFontSize": 23, "titlePadding": 14}},
            "y": {"field": "y", "type": "quantitative", "scale": {"domain": [0, 1.4]},
                  "axis": {"values": [0, 0.2, 0.4, 0.6, 0.8, 1.0, 1.2, 1.4], "format": ".1f", "title": "z/zᵢ", "titleFontSize": 28, "titleFontStyle": "italic", "titlePadding": 4}},
            "order": {"field": "y", "type": "quantitative"},
            "color": {"field": "series", "type": "nominal",
                      "scale": {"domain": ["Observations", "High resolution", "AMD model", "LASD model", "Smagorinsky model"], "range": ["#9a9a9a", "#2ca02c", "#000000", "#f22a2a", "#2255b0"]},
                      "legend": {
                        "offset": 9, "rowPadding": 1, "labelOffset": 22,
                        "labelExpr": "datum.label === 'High resolution' ? ['High', 'resolution'] : datum.label === 'Smagorinsky model' ? ['Smagorinsky', 'model'] : datum.label",
                        "encode": {"symbols": {"update": {
                          "shape": {"signal": "datum.value === 'Observations' ? 'circle' : 'M-2,0L2,0'"},
                          "size": {"signal": "datum.value === 'Observations' ? 90 : 400"},
                          "fill": {"signal": "datum.value === 'Observations' ? '#9a9a9a' : 'transparent'"},
                          "stroke": {"signal": "datum.value === 'High resolution' ? '#2ca02c' : datum.value === 'AMD model' ? '#000000' : datum.value === 'LASD model' ? '#f22a2a' : datum.value === 'Smagorinsky model' ? '#2255b0' : 'transparent'"},
                          "strokeWidth": {"signal": "datum.value === 'AMD model' ? 3 : 2.2"},
                          "strokeDash": {"signal": "datum.value === 'High resolution' ? [5, 2, 1.5, 2, 1.5, 2] : datum.value === 'LASD model' ? [4, 2] : datum.value === 'Smagorinsky model' ? [7, 2, 2, 2] : [1, 0]"},
                          "opacity": {"value": 1}
                        }}}
                      }},
            "strokeDash": {"field": "series", "type": "nominal", "legend": null,
                           "scale": {"domain": ["High resolution", "AMD model", "LASD model", "Smagorinsky model"], "range": [[5, 2, 1.5, 2, 1.5, 2], [1, 0], [4, 2], [7, 2, 2, 2]]}}
          }
        },
        {
          "data": {"name": "b_obs"},
          "mark": {"type": "circle", "size": 32, "opacity": 1},
          "encoding": {
            "x": {"field": "x", "type": "quantitative"},
            "y": {"field": "y", "type": "quantitative"},
            "color": {"field": "series", "type": "nominal"}
          }
        }
      ]
    },
    {
      "width": 372, "height": 298,
      "title": {"text": "(c)", "anchor": "start", "frame": "bounds", "offset": -37, "dx": -16},
      "layer": [
        {
          "data": {"name": "c_line"},
          "mark": {"type": "line", "strokeWidth": 1.2, "strokeDash": [4, 2], "clip": true},
          "encoding": {
            "x": {"field": "x", "type": "quantitative", "scale": {"domain": [0, 1.5]},
                  "axis": {"values": [0, 0.5, 1.0, 1.5], "format": ".1f", "title": "ϕₘ", "titleFontSize": 26, "titleFontStyle": "italic", "titlePadding": 6}},
            "y": {"field": "y", "type": "quantitative", "scale": {"domain": [0, 3]},
                  "axis": {"values": [0, 0.5, 1.0, 1.5, 2.0, 2.5, 3.0], "format": ".1f", "title": "−z/L", "titleFontSize": 26, "titleFontStyle": "italic", "titlePadding": 0, "labelPadding": 1}},
            "order": {"field": "y", "type": "quantitative"},
            "color": {"field": "series", "type": "nominal",
                      "scale": {"domain": ["Brutsaert (1982)", "AMD model", "LASD model", "Smagorinsky model"], "range": ["#2ca02c", "#111111", "#f22a2a", "#2255b0"]},
                      "legend": {
                        "offset": 12, "rowPadding": 4, "labelOffset": 25,
                        "title": " ", "titleOrient": "right", "titlePadding": 16, "titleFontSize": 2,
                        "labelExpr": "datum.label === 'Brutsaert (1982)' ? ['Brutsaert', '(1982)'] : datum.label === 'Smagorinsky model' ? ['Smagorinsky', 'model'] : datum.label",
                        "encode": {"symbols": {"update": {
                          "shape": {"signal": "datum.value === 'Brutsaert (1982)' ? 'M-2,0L2,0' : datum.value === 'AMD model' ? 'circle' : datum.value === 'LASD model' ? 'diamond' : 'triangle-up'"},
                          "size": {"signal": "datum.value === 'Brutsaert (1982)' ? 400 : datum.value === 'LASD model' ? 150 : 100"},
                          "fill": {"signal": "datum.value === 'AMD model' ? '#111111' : datum.value === 'LASD model' ? '#f22a2a' : datum.value === 'Smagorinsky model' ? '#2255b0' : 'transparent'"},
                          "stroke": {"signal": "datum.value === 'Brutsaert (1982)' ? '#2ca02c' : 'transparent'"},
                          "strokeWidth": {"value": 2},
                          "strokeDash": {"signal": "datum.value === 'Brutsaert (1982)' ? [4, 2] : [1, 0]"},
                          "opacity": {"value": 1}
                        }}}
                      }}
          }
        },
        {
          "data": {"name": "c_pts"},
          "mark": {"type": "point", "filled": true, "opacity": 1},
          "encoding": {
            "x": {"field": "x", "type": "quantitative"},
            "y": {"field": "y", "type": "quantitative"},
            "color": {"field": "series", "type": "nominal"},
            "shape": {"field": "series", "type": "nominal", "legend": null,
                      "scale": {"domain": ["AMD model", "LASD model", "Smagorinsky model"], "range": ["circle", "diamond", "triangle-up"]}},
            "size": {"field": "series", "type": "nominal", "legend": null,
                     "scale": {"domain": ["AMD model", "LASD model", "Smagorinsky model"], "range": [48, 75, 45]}}
          }
        }
      ]
    },
    {
      "width": 372, "height": 298,
      "title": {"text": "(d)", "anchor": "start", "frame": "bounds", "offset": -37, "dx": -18},
      "layer": [
        {
          "data": {"name": "d_line"},
          "mark": {"type": "line", "strokeWidth": 1.2, "strokeDash": [4, 2], "clip": true},
          "encoding": {
            "x": {"field": "x", "type": "quantitative", "scale": {"domain": [0, 1.2]},
                  "axis": {"values": [0, 0.4, 0.8, 1.2], "format": ".1f", "title": "ϕₕ", "titleFontSize": 26, "titleFontStyle": "italic", "titlePadding": 6}},
            "y": {"field": "y", "type": "quantitative", "scale": {"domain": [0, 3]},
                  "axis": {"values": [0, 0.5, 1.0, 1.5, 2.0, 2.5, 3.0], "format": ".1f", "title": "−z/L", "titleFontSize": 28, "titleFontStyle": "italic", "titlePadding": 4}},
            "order": {"field": "y", "type": "quantitative"},
            "color": {"field": "series", "type": "nominal",
                      "scale": {"domain": ["Brutsaert (1982)", "AMD model", "LASD model", "Smagorinsky model"], "range": ["#2ca02c", "#111111", "#f22a2a", "#2255b0"]},
                      "legend": {
                        "offset": 12, "rowPadding": 4, "labelOffset": 25,
                        "title": " ", "titleOrient": "right", "titlePadding": 12, "titleFontSize": 2,
                        "labelExpr": "datum.label === 'Brutsaert (1982)' ? ['Brutsaert', '(1982)'] : datum.label === 'Smagorinsky model' ? ['Smagorinsky', 'model'] : datum.label",
                        "encode": {"symbols": {"update": {
                          "shape": {"signal": "datum.value === 'Brutsaert (1982)' ? 'M-2,0L2,0' : datum.value === 'AMD model' ? 'circle' : datum.value === 'LASD model' ? 'diamond' : 'triangle-up'"},
                          "size": {"signal": "datum.value === 'Brutsaert (1982)' ? 400 : datum.value === 'LASD model' ? 150 : 100"},
                          "fill": {"signal": "datum.value === 'AMD model' ? '#111111' : datum.value === 'LASD model' ? '#f22a2a' : datum.value === 'Smagorinsky model' ? '#2255b0' : 'transparent'"},
                          "stroke": {"signal": "datum.value === 'Brutsaert (1982)' ? '#2ca02c' : 'transparent'"},
                          "strokeWidth": {"value": 2},
                          "strokeDash": {"signal": "datum.value === 'Brutsaert (1982)' ? [4, 2] : [1, 0]"},
                          "opacity": {"value": 1}
                        }}}
                      }}
          }
        },
        {
          "data": {"name": "d_pts"},
          "mark": {"type": "point", "filled": true, "opacity": 1},
          "encoding": {
            "x": {"field": "x", "type": "quantitative"},
            "y": {"field": "y", "type": "quantitative"},
            "color": {"field": "series", "type": "nominal"},
            "shape": {"field": "series", "type": "nominal", "legend": null,
                      "scale": {"domain": ["AMD model", "LASD model", "Smagorinsky model"], "range": ["circle", "diamond", "triangle-up"]}},
            "size": {"field": "series", "type": "nominal", "legend": null,
                     "scale": {"domain": ["AMD model", "LASD model", "Smagorinsky model"], "range": [48, 75, 45]}}
          }
        }
      ]
    }
  ],
  "config": {
    "font": "DejaVu Serif",
    "view": {"stroke": "black", "strokeWidth": 1.2},
    "axis": {"grid": false, "domainColor": "black", "domainWidth": 1.2, "tickColor": "black", "tickWidth": 1.2, "tickSize": 5,
             "labelColor": "black", "labelFont": "DejaVu Serif", "labelFontSize": 21, "labelPadding": 3, "labelFlush": false, "labelOverlap": false,
             "titleColor": "black", "titleFont": "DejaVu Serif", "titleFontWeight": "normal"},
    "title": {"font": "DejaVu Serif", "fontSize": 22, "fontWeight": "normal", "color": "black"},
    "legend": {"title": null, "orient": "top-right", "offset": 8, "padding": 0,
               "labelFont": "DejaVu Serif", "labelFontSize": 23, "labelColor": "black", "labelLimit": 400,
               "symbolSize": 400, "labelOffset": 19, "rowPadding": 2}
  }
}
